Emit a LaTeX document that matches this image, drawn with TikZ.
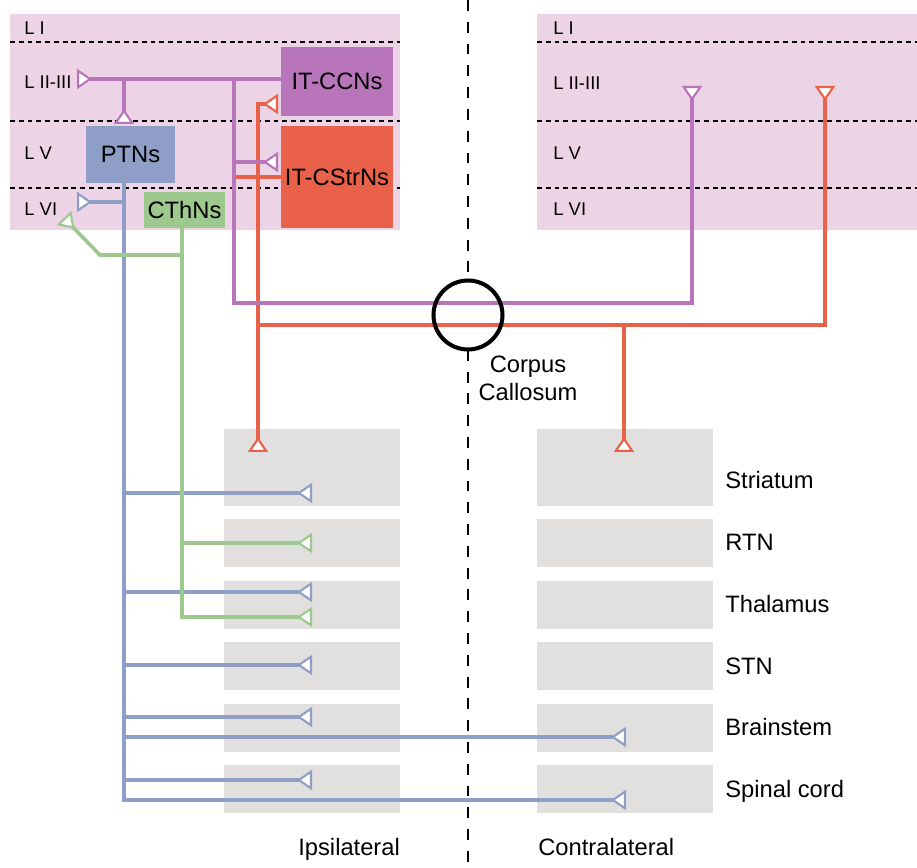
\documentclass[tikz,border=0pt]{standalone}
\usepackage{fontspec}
\setmainfont{Liberation Sans}
\usetikzlibrary{arrows.meta}
\usetikzlibrary{positioning}

\definecolor{cortexpink}{RGB}{237,211,230}
\definecolor{ccpurple}{RGB}{185,117,186}
\definecolor{csred}{RGB}{232,97,72}
\definecolor{ptblue}{RGB}{142,158,198}
\definecolor{thgreen}{RGB}{157,200,142}
\definecolor{regiongrey}{RGB}{226,224,223}

\begin{document}
\begin{tikzpicture}[x=0.02cm, y=-0.02cm,
    >={Triangle[reversed, length=0.3cm, width=0.4cm, fill=white, line width=1.2pt]},
    cellbox/.style={rectangle, inner sep=0pt, font=\fontsize{13.5}{16}\selectfont},
    region/.style={rectangle, fill=regiongrey, minimum width=3.52cm, inner sep=0pt},
    reglab/.style={anchor=base west, inner sep=0pt, font=\fontsize{13.5}{16}\selectfont},
    laylab/.style={anchor=base west, inner sep=0pt, font=\fontsize{10.5}{12}\selectfont},
    laysep/.style={line width=1.4pt, dash pattern=on 2.8pt off 2.2pt},
    midline/.style={line width=1.3pt, dash pattern=on 6.2pt off 6.2pt},
    axon/.style={line width=2.1pt},
    syn/.style={->},
    synboth/.style={<->}]

    \useasboundingbox (0,0) rectangle (917,868);

    % Cortex
    \fill[cortexpink] (10,14) rectangle (400,230);
    \fill[cortexpink] (537,14) rectangle (917,230);

    \draw[laysep] (10,42) -- (400,42);
    \draw[laysep] (10,121) -- (400,121);
    \draw[laysep] (10,188) -- (400,188);
    \draw[laysep] (537,42) -- (917,42);
    \draw[laysep] (537,121) -- (917,121);
    \draw[laysep] (537,188) -- (917,188);

    \node[laylab] (liL) at (24,35) {L I};
    \node[laylab] (liiL) at (24,89) {L II-III};
    \node[laylab] (lvL) at (24,160) {L V};
    \node[laylab] (lviL) at (24,216) {L VI};
    \node[laylab] (liR) at (553,35) {L I};
    \node[laylab] (liiR) at (553,90) {L II-III};
    \node[laylab] (lvR) at (553,160) {L V};
    \node[laylab] (lviR) at (553,216) {L VI};

    % Midline
    \node[circle, minimum size=1.38cm, inner sep=0pt] (callos) at (468,315) {};
    \coordinate (midtop) at (468,0);
    \coordinate (midbot) at (468,868);
    \draw[midline] (midtop) -- (callos.north);
    \draw[midline] (callos.south) -- (midbot);

    % Targets
    \node[region, minimum height=1.54cm] (striI) at (312,467.5) {};
    \node[region, minimum height=0.96cm] (rtnI) at (312,543) {};
    \node[region, minimum height=0.96cm] (thalI) at (312,605) {};
    \node[region, minimum height=0.96cm] (stnI) at (312,666) {};
    \node[region, minimum height=0.96cm] (brI) at (312,728) {};
    \node[region, minimum height=0.96cm] (spI) at (312,789) {};

    \node[region, minimum height=1.54cm] (striC) at (625,467.5) {};
    \node[region, minimum height=0.96cm] (rtnC) at (625,543) {};
    \node[region, minimum height=0.96cm] (thalC) at (625,605) {};
    \node[region, minimum height=0.96cm] (stnC) at (625,666) {};
    \node[region, minimum height=0.96cm] (brC) at (625,728) {};
    \node[region, minimum height=0.96cm] (spC) at (625,789) {};

    % Neurons
    \node[cellbox, fill=ccpurple, minimum width=2.24cm, minimum height=1.38cm] (itcc) at (337,81.5) {IT-CCNs};
    \node[cellbox, fill=csred, minimum width=2.24cm, minimum height=2.04cm] (itcs) at (337,177) {IT-CStrNs};
    \node[cellbox, fill=ptblue, minimum width=1.78cm, minimum height=1.14cm] (ptn) at (130.5,154.5) {PTNs};
    \node[cellbox, fill=thgreen, minimum width=1.62cm, minimum height=0.72cm] (cth) at (184.5,210) {CThNs};

    % PTNs axon
    \coordinate (ptJ) at (124,202);
    \coordinate (ptL) at (77,202);
    \coordinate (ptSt) at (312,493);
    \coordinate (ptTh) at (312,592);
    \coordinate (ptStn) at (312,665);
    \coordinate (ptBi) at (312,717);
    \coordinate (ptBc) at (626,737);
    \coordinate (ptSi) at (312,780);
    \coordinate (ptSc) at (626,800);

    \draw[axon, ptblue, syn] (ptn.south -| ptJ) -- (ptJ |- ptSc) -- (ptSc);
    \draw[axon, ptblue, syn] (ptJ) -- (ptL);
    \draw[axon, ptblue, syn] (ptJ |- ptSt) -- (ptSt);
    \draw[axon, ptblue, syn] (ptJ |- ptTh) -- (ptTh);
    \draw[axon, ptblue, syn] (ptJ |- ptStn) -- (ptStn);
    \draw[axon, ptblue, syn] (ptJ |- ptBi) -- (ptBi);
    \draw[axon, ptblue, syn] (ptJ |- ptBc) -- (ptBc);
    \draw[axon, ptblue, syn] (ptJ |- ptSi) -- (ptSi);

    % CThNs axon
    \coordinate (thJ) at (182,255);
    \coordinate (thK) at (100,255);
    \coordinate (thL) at (64,218);
    \coordinate (thR) at (312,543);
    \coordinate (thT) at (312,617);

    \draw[axon, thgreen, syn] (cth.south -| thJ) -- (thJ |- thT) -- (thT);
    \draw[axon, thgreen, syn] (thJ) -- (thK) -- (thL);
    \draw[axon, thgreen, syn] (thJ |- thR) -- (thR);

    % IT-CStrNs axon
    \coordinate (csJ) at (258,325);
    \coordinate (csT) at (278,104);
    \coordinate (csI) at (258,452);
    \coordinate (csK) at (624,452);
    \coordinate (csR) at (825,86);
    \coordinate (ccJ) at (234,79);

    \draw[axon, csred] (itcs.west) -- (itcs.west -| ccJ);
    \draw[axon, csred, synboth] (csI) -- (csI |- csT) -- (csT);
    \draw[axon, csred, syn] (csJ) -- (csJ -| csR) -- (csR);
    \draw[axon, csred, syn] (csK |- csJ) -- (csK);

    % IT-CCNs axon
    \coordinate (ccL) at (77,79);
    \coordinate (ccP) at (124,124);
    \coordinate (ccS) at (278,162);
    \coordinate (ccX) at (692,303);
    \coordinate (ccR) at (692,86);

    \draw[axon, ccpurple, syn] (itcc.west |- ccJ) -- (ccL);
    \draw[axon, ccpurple, syn] (ccP |- ccJ) -- (ccP);
    \draw[axon, ccpurple, syn] (ccJ |- ccS) -- (ccS);
    \draw[axon, ccpurple, syn] (ccJ) -- (ccJ |- ccX) -- (ccX) -- (ccR);

    % Corpus callosum
    \draw[line width=2.3pt] (callos) circle[radius=0.69cm];
    \node[align=center, inner sep=0pt, font=\fontsize{13.5}{15.9}\selectfont] (cclab) at (528,378.5) {Corpus\\Callosum};

    % Labels
    \node[reglab] (striL) at (725,488) {Striatum};
    \node[reglab] (rtnL) at (725,550) {RTN};
    \node[reglab] (thalL) at (725,612) {Thalamus};
    \node[reglab] (stnL) at (725,674) {STN};
    \node[reglab] (brL) at (725,735) {Brainstem};
    \node[reglab] (spL) at (725,797) {Spinal cord};

    \node[reglab] (ipsi) at (298,855) {Ipsilateral};
    \node[reglab] (contra) at (538,855) {Contralateral};

\end{tikzpicture}
\end{document}
